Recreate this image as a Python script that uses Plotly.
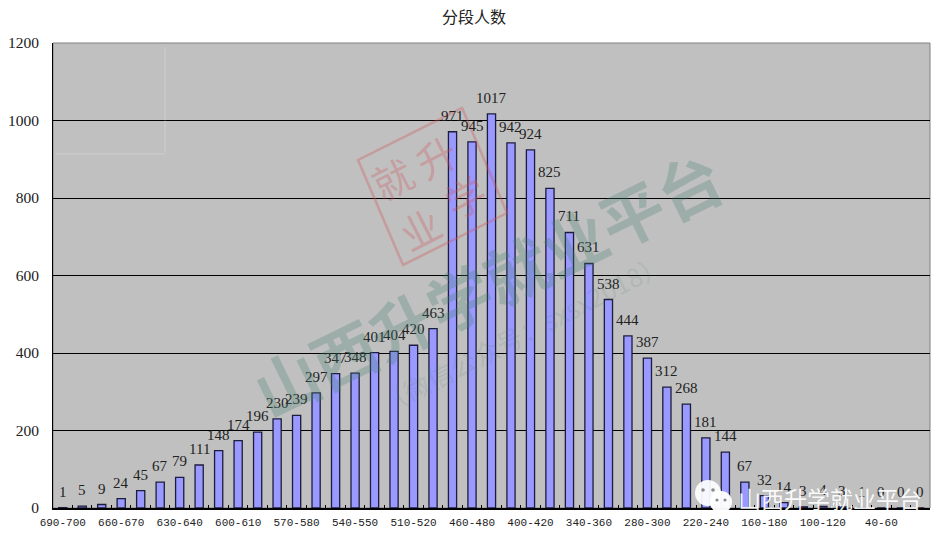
import plotly.graph_objects as go

categories = ["690-700","680-690","670-680","660-670","650-660","640-650","630-640","620-630","610-620",
 "600-610","590-600","580-590","570-580","560-570","550-560","540-550","530-540","520-530","510-520","500-510",
 "480-500","460-480","440-460","420-440","400-420","380-400","360-380","340-360","320-340","300-320","280-300",
 "260-280","240-260","220-240","200-220","180-200","160-180","140-160","120-140","100-120","80-100","60-80",
 "40-60","20-40","0-20"]
values = [1,5,9,24,45,67,79,111,148,174,196,230,239,297,347,348,401,404,420,463,971,945,1017,942,924,825,711,631,
 538,444,387,312,268,181,144,67,32,14,3,4,3,1,0,0,0]
tick_labels = [c if i % 3 == 0 else "" for i, c in enumerate(categories)]

# page offset of the browser body
OX, OY = 8, 8
L, R, T, B = 53, 930, 43, 508
def px(x): return (x - L) / (R - L)
def py(y): return (B - y) / (B - T)

fig = go.Figure(go.Bar(x=categories, y=values, cliponaxis=False,
    marker=dict(color="#9999ff", line=dict(color="#1c1c3c", width=1.3)), width=0.42))

ann = [dict(x=c, y=v, text=str(v), showarrow=False, yshift=16, yanchor="middle",
            font=dict(family="Liberation Serif", size=15, color="#222"))
       for c, v in zip(categories, values)]

GREEN = "rgba(70,125,110,0.28)"
RED = "rgba(205,85,90,0.33)"
def mark(text, x, y, size, angle, color, weight="normal"):
    return dict(text=text, xref="paper", yref="paper", x=px(x), y=py(y), xanchor="center", yanchor="middle",
                showarrow=False, textangle=angle,
                font=dict(family="Noto Sans CJK SC", size=size, color=color, weight=weight))

ann += [
    mark("山西升学就业平台", 487, 282, 64, -26, GREEN, "bold"),
    mark("（微信公众号：sxsx2018）", 522, 332, 26, -27, "rgba(70,125,110,0.15)"),
    mark("就", 392, 178, 40, -27, RED),
    mark("升", 436, 156, 40, -27, RED),
    mark("业", 420, 228, 40, -27, RED),
    mark("学", 465, 196, 40, -27, RED),
    mark("山西升学就业平台", 830, 498, 23, 0, "rgba(255,255,255,0.92)"),
]

def pt(x, y): return f"{px(x):.4f},{py(y):.4f}"
def circ(cx, cy, r, color):
    return dict(type="circle", xref="paper", yref="paper", x0=px(cx-r), x1=px(cx+r), y0=py(cy+r), y1=py(cy-r),
                fillcolor=color, line=dict(width=0))
shapes = [
    dict(type="rect", xref="paper", yref="paper", x0=0, x1=1, y0=0, y1=1, line=dict(color="#808080", width=1), layer="below"),
    dict(type="line", xref="paper", yref="paper", x0=px(165), x1=px(165), y0=py(47), y1=py(152),
         line=dict(color="rgba(255,255,255,0.22)", width=1)),
    dict(type="line", xref="paper", yref="paper", x0=px(55), x1=px(165), y0=py(154), y1=py(154),
         line=dict(color="rgba(255,255,255,0.22)", width=1)),
    dict(type="path", xref="paper", yref="paper",
         path=f"M {pt(358,160)} L {pt(462,108)} L {pt(507,213)} L {pt(403,265)} Z",
         line=dict(color="rgba(205,85,90,0.35)", width=2.5)),
    circ(708, 493, 13, "rgba(255,255,255,0.92)"),
    circ(703, 490, 1.8, "#8a8a8a"), circ(713, 490, 1.8, "#8a8a8a"),
    circ(721, 502, 11, "rgba(255,255,255,0.96)"),
    circ(717, 500, 1.6, "#8a8a8a"), circ(725, 500, 1.6, "#8a8a8a"),
]

fig.update_layout(
    width=950 - OX, height=535 - OY,
    margin=dict(l=L - OX, r=950 - R, t=T - OY, b=535 - B, autoexpand=False),
    paper_bgcolor="white", plot_bgcolor="#c0c0c0",
    title=dict(text="分段人数", x=(474 - OX) / (950 - OX), y=1 - (17 - OY) / (535 - OY), xanchor="center", yanchor="middle",
               font=dict(family="Noto Sans CJK SC", size=16, color="#222")),
    showlegend=False, annotations=ann, shapes=shapes,
    xaxis=dict(type="category", categoryorder="array", categoryarray=categories, tickmode="array", automargin=False,
               tickvals=categories, ticktext=tick_labels, tickangle=0, ticks="inside", ticklen=3, tickson="boundaries",
               ticklabelstandoff=3,
               showline=True, linecolor="black", linewidth=1.5, tickcolor="black", showgrid=False,
               tickfont=dict(family="Liberation Mono", size=11, color="#222")),
    yaxis=dict(range=[0, 1200], dtick=200, showline=True, linecolor="black", linewidth=1, gridcolor="black", gridwidth=1,
               automargin=False, ticks="inside", ticklen=3, tickcolor="black", zeroline=False, ticklabelstandoff=10,
               tickfont=dict(family="Liberation Serif", size=15.5, color="#222")),
)
fig.write_html("out.html")
